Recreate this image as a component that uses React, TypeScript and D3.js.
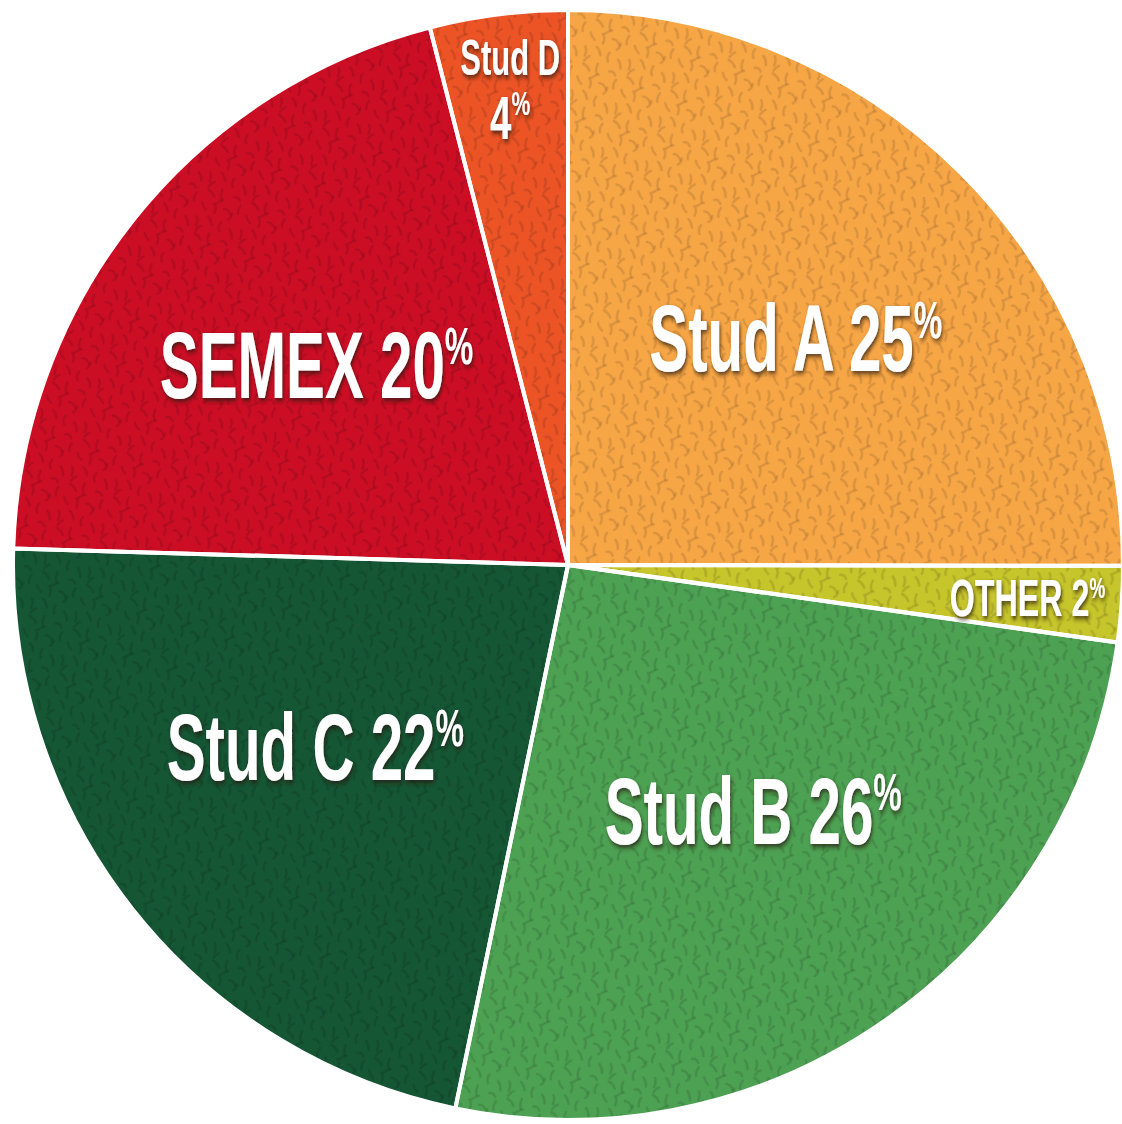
import { useEffect, useRef } from "react";
import * as d3 from "d3";

// slices, clockwise from 12 o'clock
const names = ["Stud A", "OTHER", "Stud B", "Stud C", "SEMEX", "Stud D"];
const shares = [25, 2.2, 26, 22.2, 20.5, 4];
const pctLabels = ["25", "2", "26", "22", "20", "4"];
const colors = ["#F7A646", "#C6C52B", "#4DA153", "#155635", "#CC0E25", "#EC5426"];

export default function App() {
  const ref = useRef<SVGSVGElement | null>(null);

  useEffect(() => {
    if (!ref.current) return;
    const width = 1122, height = 1124;
    const cx = 568, cy = 565, R = 555;

    const svg = d3.select(ref.current);
    svg.selectAll("*").remove();
    svg.attr("width", width).attr("height", height);

    const defs = svg.append("defs");

    // little leaf/squiggle texture laid over the slices
    const pat = defs.append("pattern")
      .attr("id", "tex")
      .attr("patternUnits", "userSpaceOnUse")
      .attr("width", 46).attr("height", 46)
      .attr("patternTransform", "rotate(17)");
    const strokes = [
      "M3,5 q3,4 2,9", "M14,2 q4,2 6,7", "M28,4 q-2,5 1,9", "M38,8 q4,3 5,8",
      "M6,22 q5,1 8,5", "M20,18 q-1,6 2,10", "M33,22 q4,-2 7,2", "M42,28 q-2,5 0,9",
      "M4,36 q2,4 6,6", "M16,34 q4,3 3,9", "M27,36 q5,-1 8,4", "M24,28 q-4,2 -6,5",
      "M10,13 q-3,2 -4,6", "M36,38 q1,4 -2,7"
    ];
    pat.selectAll("path").data(strokes).join("path")
      .attr("d", d => d)
      .attr("fill", "none")
      .attr("stroke", "#000")
      .attr("stroke-opacity", 0.12)
      .attr("stroke-width", 2.4)
      .attr("stroke-linecap", "round");

    const shadow = defs.append("filter")
      .attr("id", "shadow")
      .attr("x", "-20%").attr("y", "-30%")
      .attr("width", "140%").attr("height", "160%");
    shadow.append("feDropShadow")
      .attr("dx", 2).attr("dy", 3)
      .attr("stdDeviation", 2.5)
      .attr("flood-color", "#2a1a10")
      .attr("flood-opacity", 0.75);

    const data = names.map((n, i) => ({ name: n, value: shares[i], pct: pctLabels[i], color: colors[i] }));
    const pie = d3.pie<any>().value(d => d.value).sort(null);
    const arcs = pie(data);
    const arc = d3.arc<any>().innerRadius(0).outerRadius(R);

    const g = svg.append("g").attr("transform", `translate(${cx},${cy})`);

    g.selectAll("path.slice").data(arcs).join("path")
      .attr("class", "slice")
      .attr("d", arc)
      .attr("fill", d => d.data.color);

    g.selectAll("path.tex").data(arcs).join("path")
      .attr("class", "tex")
      .attr("d", arc)
      .attr("fill", "url(#tex)");

    g.selectAll("path.edge").data(arcs).join("path")
      .attr("class", "edge")
      .attr("d", arc)
      .attr("fill", "none")
      .attr("stroke", "#fff")
      .attr("stroke-width", 4)
      .attr("stroke-linejoin", "round");

    const fontFamily = "'Liberation Sans', Arial, sans-serif";
    const squeeze = 0.62;

    arcs.forEach(d => {
      const small = d.data.value < 5;
      const mid = (d.startAngle + d.endAngle) / 2;
      const r = small ? R * 0.83 : R * 0.58;
      const x = Math.sin(mid) * r;
      let y = -Math.cos(mid) * r;
      if (!small && y > 0) y -= 18; // lower labels sit a bit higher
      const lg = g.append("g")
        .attr("transform", `translate(${x},${y}) scale(${squeeze},1)`)
        .attr("filter", "url(#shadow)")
        .attr("fill", "#fff")
        .attr("font-family", fontFamily)
        .attr("font-weight", "bold")
        .attr("text-anchor", "middle");

      if (d.data.name === "Stud D") {
        const fs = 50;
        lg.append("text")
          .attr("y", -33)
          .attr("font-size", fs)
          .text(d.data.name);
        const f2 = 62;
        const t2 = lg.append("text").attr("y", 31).attr("font-size", f2);
        t2.append("tspan").text(d.data.pct);
        t2.append("tspan").attr("dy", -f2 * 0.38).attr("font-size", f2 * 0.55).text("%");
      } else {
        const fs = small ? 52 : 94;
        const t = lg.append("text")
          .attr("y", fs * 0.36)
          .attr("font-size", fs);
        t.append("tspan").text(`${d.data.name} ${d.data.pct}`);
        t.append("tspan").attr("dy", -fs * 0.36).attr("font-size", fs * 0.55).text("%");
      }
    });
  }, []);

  return (
    <div>
      <style>{`body{margin:0;background:#fff}`}</style>
      <svg ref={ref} style={{ display: "block" }} />
    </div>
  );
}
